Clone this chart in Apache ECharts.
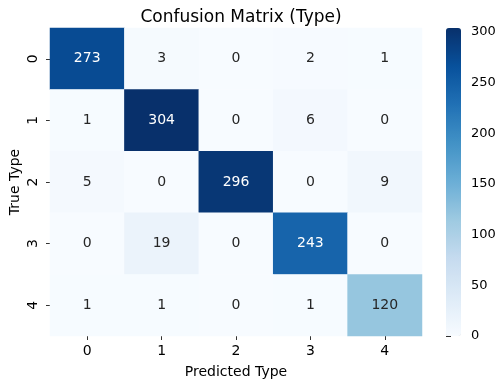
<!DOCTYPE html>
<html><head><meta charset="utf-8">
<script src="https://cdn.jsdelivr.net/npm/echarts@6/dist/echarts.min.js"></script>
<style>html,body{margin:0;padding:0;background:#fff}#c{width:502px;height:385px}</style>
</head><body><div id="c"></div>
<script>
const predictedLabels = ['0','1','2','3','4'];
const trueLabels = ['0','1','2','3','4'];
const matrix = [
  [273, 3, 0, 2, 1],
  [1, 304, 0, 6, 0],
  [5, 0, 296, 0, 9],
  [0, 19, 0, 243, 0],
  [1, 1, 0, 1, 120]
];
const colorbarTicks = [0, 50, 100, 150, 200, 250, 300];
const vmin = 0, vmax = 304;
const blues = ['#f7fbff','#deebf7','#c6dbef','#9ecae1','#6baed6','#4292c6','#2171b5','#08519c','#08306b'];
const FONT = 'DejaVu Sans';

const data = [];
matrix.forEach((row, i) => row.forEach((v, j) => {
  data.push({value: [j, i, v], label: {color: v / vmax > 0.55 ? '#ffffff' : '#262626'}});
}));

const chart = echarts.init(document.getElementById('c'), null, {renderer: 'canvas'});
chart.setOption({
  animation: false,
  backgroundColor: '#ffffff',
  textStyle: {fontFamily: FONT},
  title: {text: 'Confusion Matrix (Type)', left: 236, top: 4, textAlign: 'center',
    textStyle: {fontFamily: FONT, fontSize: 17, fontWeight: 'normal', color: '#000'}},
  grid: [
    {left: 50, top: 28, width: 372, height: 308, outerBoundsMode: 'none', containLabel: false},
    {left: 446, top: 28, width: 15, height: 308, outerBoundsMode: 'none', containLabel: false}
  ],
  xAxis: [
    {type: 'category', gridIndex: 0, data: predictedLabels, position: 'bottom',
      name: 'Predicted Type', nameLocation: 'middle', nameGap: 29,
      nameTextStyle: {fontFamily: FONT, fontSize: 14, color: '#000'},
      axisLine: {show: false}, splitArea: {show: false},
      axisTick: {show: true, alignWithLabel: true, length: 4, lineStyle: {color: '#333', width: 1}},
      axisLabel: {margin: 8, fontFamily: FONT, fontSize: 14, color: '#000'}},
    {type: 'value', gridIndex: 1, show: false, min: 0, max: 1}
  ],
  yAxis: [
    {type: 'category', gridIndex: 0, data: trueLabels, inverse: true,
      name: 'True Type', nameLocation: 'middle', nameGap: 28, nameMoveOverlap: false,
      nameTextStyle: {fontFamily: FONT, fontSize: 14, color: '#000'},
      axisLine: {show: false},
      axisTick: {show: true, alignWithLabel: true, length: 4, lineStyle: {color: '#333', width: 1}},
      axisLabel: {margin: 10, rotate: 90, fontFamily: FONT, fontSize: 14, color: '#000'}},
    {type: 'value', gridIndex: 1, position: 'right', min: vmin, max: vmax,
      axisLine: {show: false}, splitLine: {show: false},
      axisTick: {show: true, length: 5, customValues: colorbarTicks, lineStyle: {color: '#333'}},
      axisLabel: {margin: 10, customValues: colorbarTicks, fontFamily: FONT, fontSize: 13, color: '#000'}}
  ],
  visualMap: {
    type: 'continuous', min: vmin, max: vmax, calculable: false, seriesIndex: 0,
    left: 446, top: 28, itemWidth: 15, itemHeight: 308, orient: 'vertical', padding: 0,
    showLabel: false, hoverLink: false, realtime: false,
    inRange: {color: blues}
  },
  series: [{
    type: 'heatmap', xAxisIndex: 0, yAxisIndex: 0, data: data,
    label: {show: true, fontFamily: FONT, fontSize: 14},
    itemStyle: {borderWidth: 0},
    emphasis: {disabled: true}
  }]
});
</script></body></html>
